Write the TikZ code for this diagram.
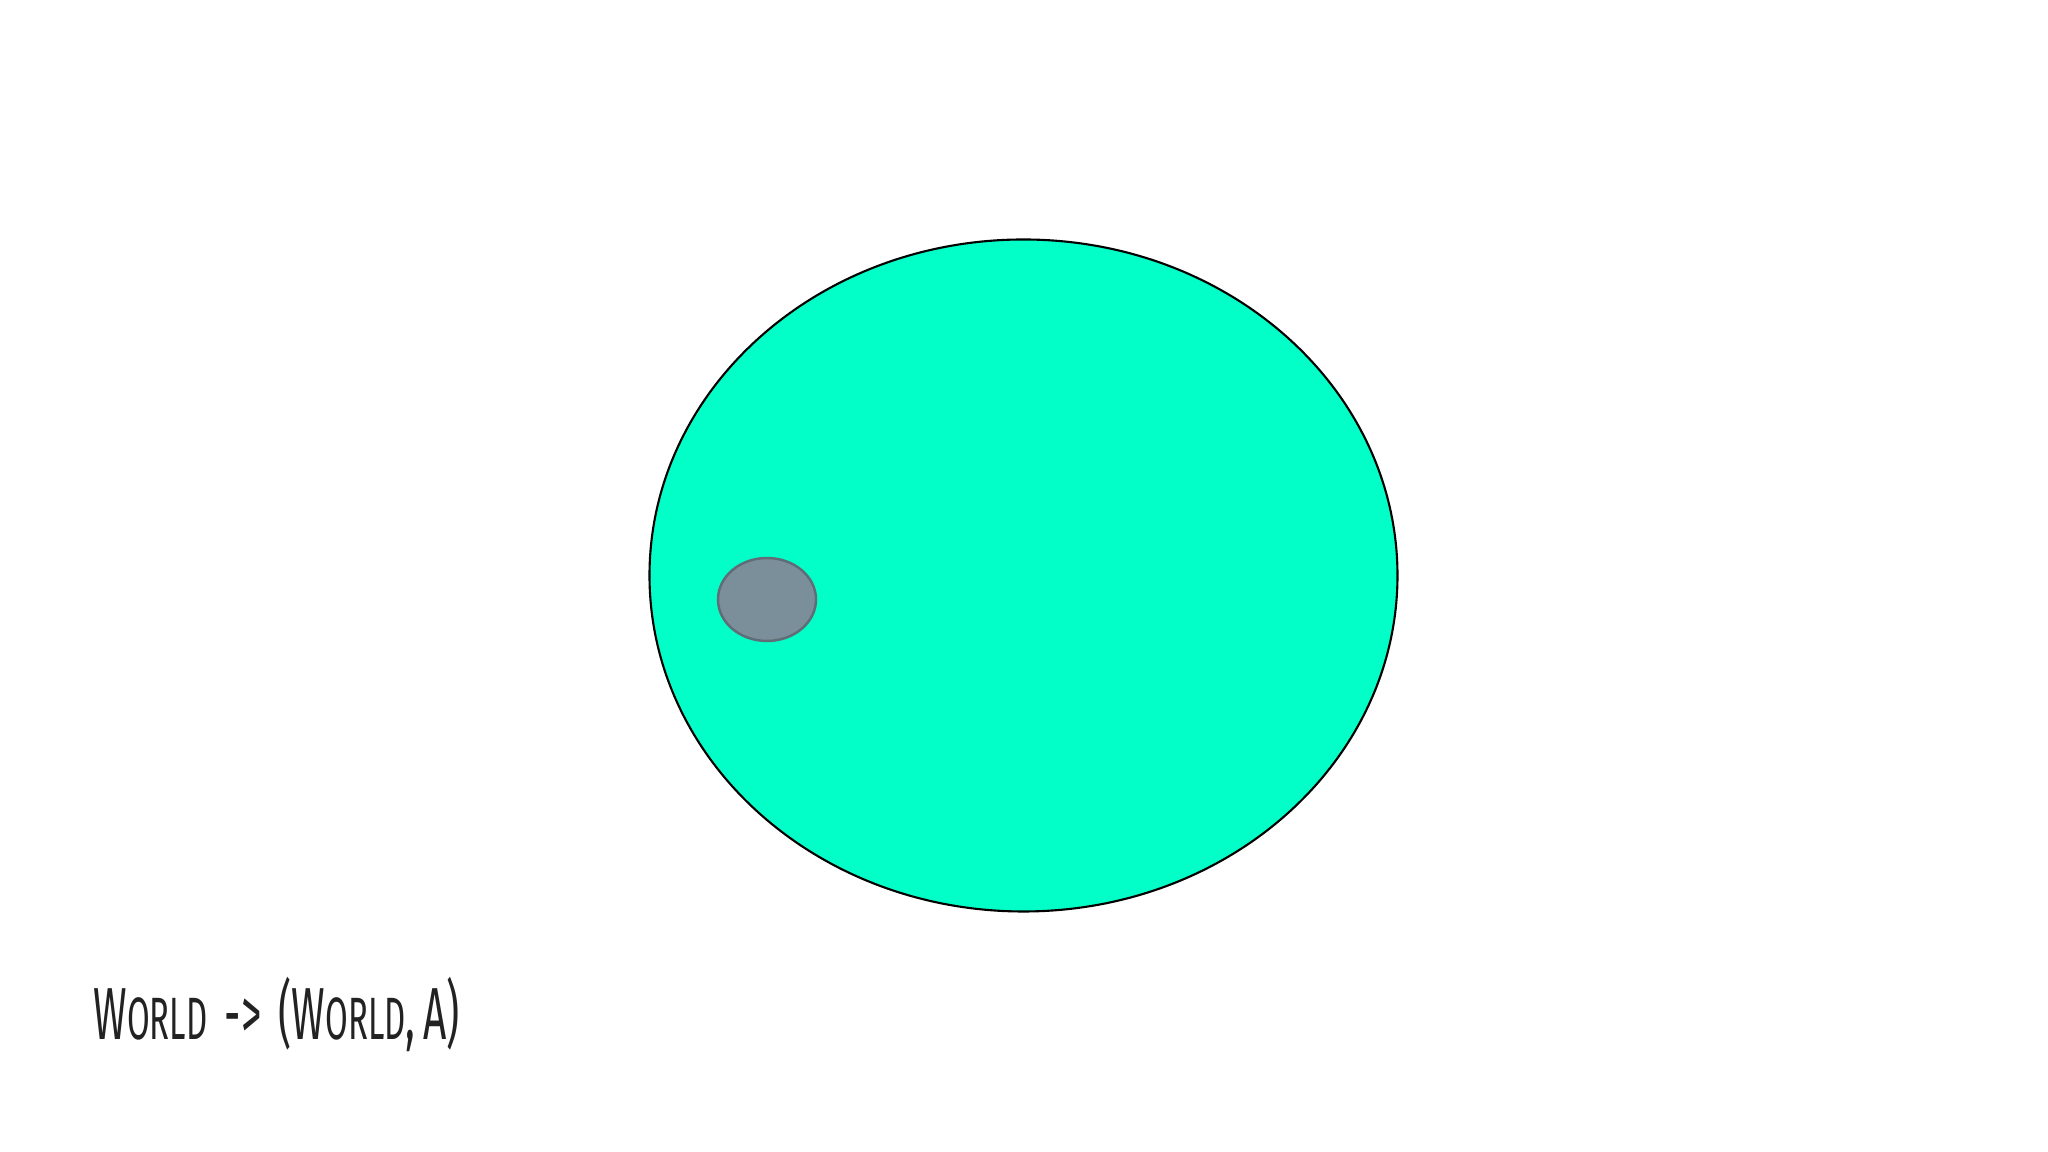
\documentclass[tikz,border=0pt]{standalone}
\usepackage{fontspec}
\setmainfont{Fira Sans}
\usetikzlibrary{positioning, shapes.geometric}
\definecolor{worldfill}{RGB}{3,255,200}
\definecolor{agentfill}{RGB}{122,143,153}
\definecolor{agentline}{RGB}{96,108,118}
\definecolor{inktext}{RGB}{34,34,34}
\newcommand{\capbig}[1]{{\fontsize{21}{24}\selectfont #1}}
\newcommand{\caplow}[1]{{\fontsize{17}{20}\selectfont #1}}
\tikzset{
  world/.style={
    draw=black,
    ellipse,
    line width=0.6pt,
    inner sep=0pt,
    minimum width=7.48cm,
    minimum height=6.72cm,
    fill=worldfill
  },
  agent/.style={
    draw=agentline,
    ellipse,
    line width=0.7pt,
    inner sep=0pt,
    minimum width=0.98cm,
    minimum height=0.83cm,
    fill=agentfill
  },
  caption/.style={
    anchor=base west,
    inner sep=0pt,
    text=inktext
  }
}
\begin{document}
\begin{tikzpicture}
  \useasboundingbox (0,0) rectangle (20.48,11.52);
  \node[world] (space) at (10.235,5.765) {};
  \node[agent] (state) at (7.67,5.525) {};
  \node[caption] (signature) at (0.93,1.12)
    {\scalebox{0.55}[1]{\capbig{W}\caplow{ORLD}\hspace{9pt}\capbig{->}\hspace{9pt}\capbig{(W}\caplow{ORLD}\capbig{,\hspace{4pt}A)}}};
\end{tikzpicture}
\end{document}
